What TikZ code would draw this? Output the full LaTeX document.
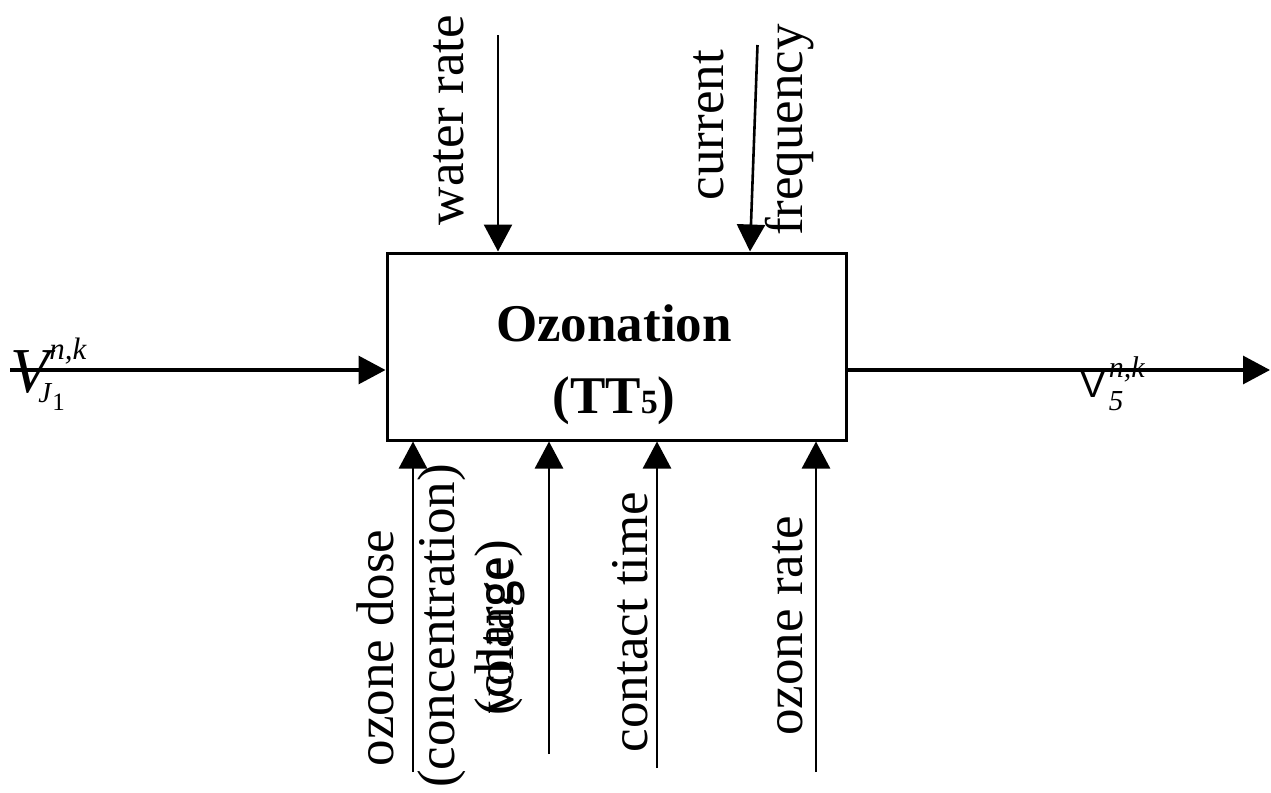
\documentclass[tikz,border=0pt]{standalone}
\usepackage{fontspec}
\setmainfont{Liberation Serif}
\newfontfamily\arialf{Liberation Sans}
\usetikzlibrary{arrows.meta,calc}
\tikzset{
  arr/.style={line width=1.3pt,-{Triangle[length=13.5pt,width=14pt]}},
  mainarr/.style={line width=1.6pt,-{Triangle[length=13.5pt,width=14pt]}},
  lab/.style={rotate=90,anchor=base,inner sep=0pt,font=\fontsize{26.5}{26.5}\selectfont},
  blk/.style={draw,line width=1.5pt,inner sep=0pt,minimum width=229.5pt,minimum height=93.5pt}
}
\begin{document}
\begin{tikzpicture}[x=0.5pt,y=-0.5pt]
\useasboundingbox (0,0) rectangle (1271,793);
% block
\node[blk] (box) at (616.5,346.5) {};
\node[align=center,inner sep=0pt,anchor=base,font=\bfseries\fontsize{26.5}{36}\selectfont] (title) at (614,413)
  {Ozonation\\(TT{\fontsize{17}{17}\selectfont 5})};
% main flow
\coordinate (in) at (10,370);
\coordinate (out) at (1270,370);
\draw[mainarr] (in) -- (in -| box.west);
\draw[mainarr] (box.east |- out) -- (out);
\node[anchor=base west,inner sep=0pt] (vin) at (10,392)
  {\itshape\fontsize{32}{32}\selectfont V\rlap{\raisebox{16.5pt}{\fontsize{15.5}{15.5}\selectfont n,k}}\hspace{-5.5pt}\raisebox{-5pt}{\fontsize{14.5}{14.5}\selectfont J\kern0.5pt\raisebox{-4pt}{\upshape\fontsize{12.5}{12.5}\selectfont 1}}};
\node[anchor=base west,inner sep=0pt] (vout) at (1080,397)
  {\arialf\fontsize{19}{19}\selectfont V\kern1.5pt\rlap{\raisebox{10pt}{\rmfamily\itshape\fontsize{15}{15}\selectfont n,k}}\raisebox{-6.5pt}{\rmfamily\itshape\fontsize{14.5}{14.5}\selectfont 5}};
% top controls
\coordinate (wr) at (498,35);
\draw[arr] (wr) -- (wr |- box.north);
\node[lab] (wrl) at (463,120) {water rate};
\coordinate (cf) at (757.5,45);
\draw[arr] (cf) -- ([xshift=66.75pt]box.north);
\node[lab] (cfl1) at (723,125) {current};
\node[lab] (cfl2) at (802,130) {frequency};
% bottom mechanisms
\coordinate (od) at (413,772);
\draw[arr] (od) -- (od |- box.south);
\node[lab] (odl1) at (393,648) {ozone dose};
\node[lab] (odl2) at (454,626) {(concentration)};
\coordinate (vo) at (549,754);
\draw[arr] (vo) -- (vo |- box.south);
\node[lab] (vol1) at (513,635) {voltage};
\node[lab] (vol2) at (511,628) {(charge)};
\coordinate (ct) at (657,768);
\draw[arr] (ct) -- (ct |- box.south);
\node[lab] (ctl) at (647,622) {contact time};
\coordinate (or) at (816,772);
\draw[arr] (or) -- (or |- box.south);
\node[lab] (orl) at (802,626) {ozone rate};
\end{tikzpicture}
\end{document}
